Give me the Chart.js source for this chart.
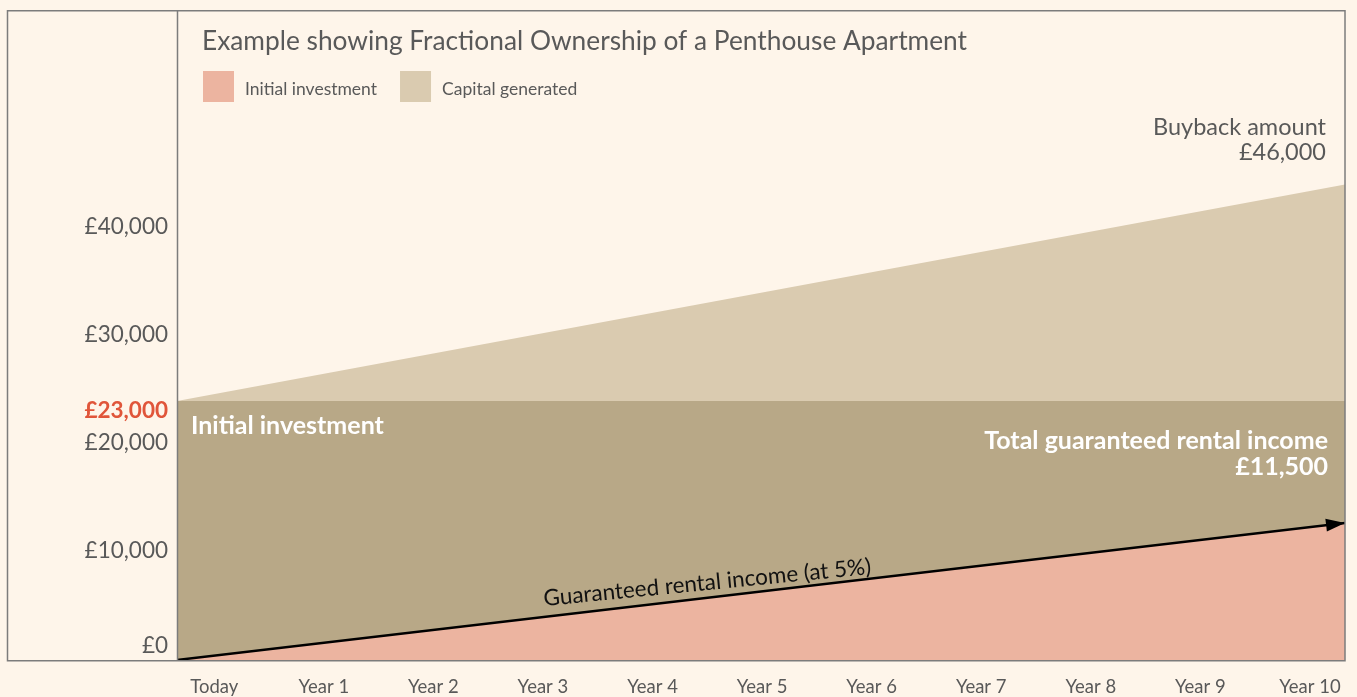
<!DOCTYPE html>
<html>
<head>
<meta charset="utf-8">
<title>Fractional Ownership of a Penthouse Apartment</title>
<script src="https://cdn.jsdelivr.net/npm/chart.js@4.4.1/dist/chart.umd.min.js"></script>
<style>
  html, body { margin: 0; padding: 0; background: #fef5ea; }
  canvas { display: block; }
</style>
</head>
<body>
<canvas id="ownershipChart" width="1357" height="697"></canvas>
<script>
// Fractional ownership example: area chart with annotations

const TITLE = 'Example showing Fractional Ownership of a Penthouse Apartment';
const X_LABELS = ['Today', 'Year 1', 'Year 2', 'Year 3', 'Year 4', 'Year 5',
                  'Year 6', 'Year 7', 'Year 8', 'Year 9', 'Year 10'];
// the areas run from the left edge of the plot to the right edge
const EDGE_X = [-0.34, 10.32];
const CAPITAL_VALUES = [23000, 42200];
const INVESTMENT_VALUES = [23000, 23000];
const RENTAL_VALUES = [0, 12170];
const Y_TICKS = [0, 10000, 20000, 23000, 30000, 40000];
const LEGEND_LABELS = ['Initial investment', 'Capital generated'];

const FONT = 'Lato, "Noto Sans", sans-serif';
const GREY = '#595959';
const PINK = '#ecb4a0';
const LIGHT_TAN = '#dacbb0';
const DARK_TAN = '#b8a887';
const RED = '#e0553a';

function toPoints(values) {
    return values.map((v, i) => ({ x: EDGE_X[i], y: v }));
}

const overlay = {
    id: 'overlay',
    afterDatasetsDraw(chart) {
        const { ctx, chartArea: a, scales } = chart;

        // arrow head on the rental line
        const pts = chart.getDatasetMeta(0).data;
        const p0 = pts[0], p1 = pts[pts.length - 1];
        const ang = Math.atan2(p1.y - p0.y, p1.x - p0.x);
        ctx.save();
        ctx.translate(p1.x, p1.y);
        ctx.rotate(ang);
        ctx.beginPath();
        ctx.moveTo(0, 0);
        ctx.lineTo(-19, -6.5);
        ctx.lineTo(-19, 6.5);
        ctx.closePath();
        ctx.fillStyle = '#000';
        ctx.fill();
        ctx.restore();

        // label along the arrow
        const lx = scales.x.getPixelForValue(4.5);
        const ly = p0.y + (p1.y - p0.y) * (lx - p0.x) / (p1.x - p0.x);
        ctx.save();
        ctx.translate(lx, ly - 15);
        ctx.rotate(-5.6 * Math.PI / 180);
        ctx.font = '22.5px ' + FONT;
        ctx.fillStyle = '#111';
        ctx.textAlign = 'center';
        ctx.textBaseline = 'middle';
        ctx.fillText('Guaranteed rental income (at 5%)', 0, 0);
        ctx.restore();

        ctx.save();
        ctx.textBaseline = 'middle';

        // title and legend
        ctx.fillStyle = GREY;
        ctx.font = '26.3px ' + FONT;
        ctx.textAlign = 'left';
        ctx.fillText(TITLE, a.left + 25, a.top + 32);

        ctx.font = '17.5px ' + FONT;
        const boxColours = [PINK, LIGHT_TAN];
        let bx = a.left + 26;
        LEGEND_LABELS.forEach((label, i) => {
            ctx.fillStyle = boxColours[i];
            ctx.fillRect(bx, a.top + 61, 31, 31);
            ctx.fillStyle = GREY;
            ctx.fillText(label, bx + 42, a.top + 79);
            bx += 42 + ctx.measureText(label).width + 23;
        });

        // buyback note
        ctx.font = '23.5px ' + FONT;
        ctx.textAlign = 'right';
        ctx.fillText('Buyback amount', a.right - 19, a.top + 117);
        ctx.fillText('£46,000', a.right - 19, a.top + 142);

        // white notes on the band
        const bandTop = scales.y.getPixelForValue(23000);
        ctx.fillStyle = '#fff';
        ctx.font = 'bold 25px ' + FONT;
        ctx.textAlign = 'left';
        ctx.fillText('Initial investment', a.left + 14, bandTop + 25);
        ctx.textAlign = 'right';
        ctx.fillText('Total guaranteed rental income', a.right - 17, bandTop + 40);
        ctx.fillText('£11,500', a.right - 17, bandTop + 66);

        // frame
        ctx.strokeStyle = '#7c7c7c';
        ctx.lineWidth = 1.5;
        ctx.strokeRect(7.5, a.top + 0.75, a.right - 7.5, a.bottom - a.top);
        ctx.beginPath();
        ctx.moveTo(a.left + 0.5, a.top);
        ctx.lineTo(a.left + 0.5, a.bottom);
        ctx.stroke();
        ctx.restore();
    }
};

new Chart(document.getElementById('ownershipChart'), {
    type: 'line',
    data: {
        datasets: [
            {
                label: 'Guaranteed rental income (at 5%)',
                data: toPoints(RENTAL_VALUES),
                borderColor: '#000',
                borderWidth: 2.5,
                fill: false,
                pointRadius: 0,
            },
            {
                label: 'Rental income',
                data: toPoints(RENTAL_VALUES),
                borderWidth: 0,
                backgroundColor: PINK,
                fill: 'origin',
                pointRadius: 0,
            },
            {
                label: 'Initial investment',
                data: toPoints(INVESTMENT_VALUES),
                borderWidth: 0,
                backgroundColor: DARK_TAN,
                fill: 'origin',
                pointRadius: 0,
            },
            {
                label: 'Capital generated',
                data: toPoints(CAPITAL_VALUES),
                borderWidth: 0,
                backgroundColor: LIGHT_TAN,
                fill: 'origin',
                pointRadius: 0,
            },
        ]
    },
    options: {
        responsive: false,
        animation: false,
        devicePixelRatio: 1,
        layout: { padding: { left: 0, right: 12, top: 10, bottom: 0 } },
        scales: {
            x: {
                type: 'linear',
                min: EDGE_X[0],
                max: EDGE_X[1],
                afterBuildTicks: s => { s.ticks = X_LABELS.map((_, i) => ({ value: i })); },
                afterFit: s => { s.height = 37; s.paddingLeft = 0; s.paddingRight = 0; },
                grid: { display: false, drawTicks: false },
                border: { display: false },
                ticks: {
                    padding: 16,
                    color: GREY,
                    font: { family: FONT, size: 18.5 },
                    maxRotation: 0,
                    autoSkip: false,
                    callback: v => X_LABELS[v],
                }
            },
            y: {
                display: false,
                min: 0,
                max: 57700,
            },
            yLabels: {
                type: 'linear',
                position: 'left',
                min: -90,
                max: 60090,
                afterBuildTicks: s => { s.ticks = Y_TICKS.map(v => ({ value: v })); },
                afterFit: s => { s.width = 177; s.paddingTop = 0; s.paddingBottom = 0; },
                grid: { display: false, drawTicks: false },
                border: { display: false },
                ticks: {
                    padding: 9,
                    color: c => c.tick && c.tick.value === 23000 ? RED : GREY,
                    font: c => ({
                        family: FONT,
                        size: 22.5,
                        weight: c.tick && c.tick.value === 23000 ? 'bold' : 'normal'
                    }),
                    callback: v => v === 0 ? ['£0', ''] : '£' + v.toLocaleString('en-GB'),
                }
            }
        },
        plugins: {
            legend: { display: false },
            title: { display: false },
            tooltip: { enabled: false },
        }
    },
    plugins: [overlay]
});
</script>
</body>
</html>
